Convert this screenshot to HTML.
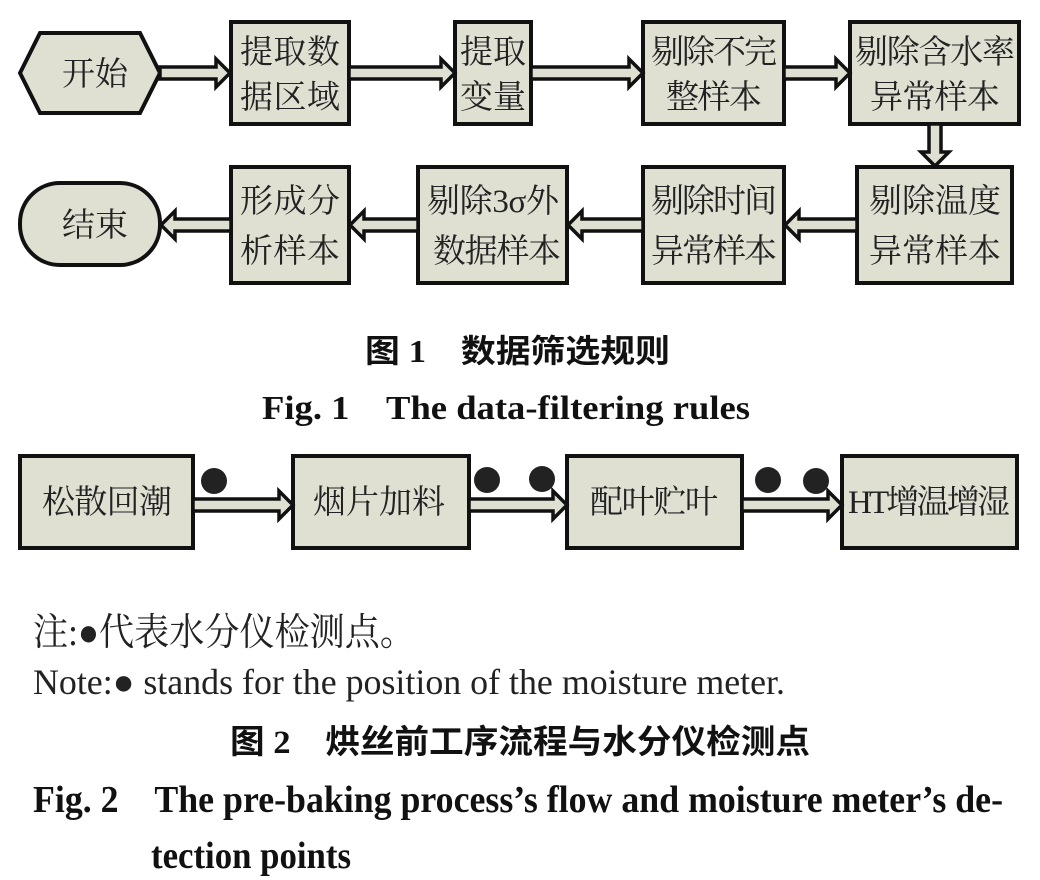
<!DOCTYPE html>
<html><head><meta charset="utf-8"><style>
html,body{margin:0;padding:0;background:#fff;}
svg{display:block;}
.b{fill:#dfe0d2;stroke:#111;stroke-width:4;}
.a{fill:#dfe0d2;stroke:#111;stroke-width:3.5;stroke-linejoin:miter;}
.t{font-family:"Liberation Serif","Noto Serif CJK SC",serif;font-size:33px;fill:#222;}
.c{font-family:"Liberation Serif","Noto Sans CJK SC",sans-serif;font-weight:bold;fill:#111;}
</style></head><body>
<svg width="1040" height="880" viewBox="0 0 1040 880" xmlns="http://www.w3.org/2000/svg">
<!-- Row 1 -->
<polygon class="b" points="20,73 40,33 140,33 160,73 140,113 40,113"/>
<text class="t" x="62" y="85" textLength="66">开始</text>
<rect class="b" x="231" y="22" width="118" height="102"/>
<text class="t" x="240" y="63" textLength="100">提取数</text>
<text class="t" x="240" y="108" textLength="100">据区域</text>
<rect class="b" x="455" y="22" width="76" height="102"/>
<text class="t" x="460" y="63" textLength="66">提取</text>
<text class="t" x="460" y="108" textLength="66">变量</text>
<rect class="b" x="643" y="22" width="141" height="102"/>
<text class="t" x="651" y="63" textLength="126">剔除不完</text>
<text class="t" x="666" y="108" textLength="96">整样本</text>
<rect class="b" x="850" y="22" width="169" height="102"/>
<text class="t" x="855" y="63" textLength="160">剔除含水率</text>
<text class="t" x="870" y="108" textLength="130">异常样本</text>
<!-- row1 arrows -->
<polygon class="a" points="160,67 216,67 216,59 230,73 216,87 216,79 160,79"/>
<polygon class="a" points="349,67 441,67 441,59 455,73 441,87 441,79 349,79"/>
<polygon class="a" points="531,67 629,67 629,59 643,73 629,87 629,79 531,79"/>
<polygon class="a" points="784,67 836,67 836,59 850,73 836,87 836,79 784,79"/>
<polygon class="a" points="929,124 941,124 941,152 949,152 935,166 921,152 929,152"/>
<!-- Row 2 -->
<rect class="b" x="20" y="183" width="140" height="82" rx="40" ry="40"/>
<text class="t" x="62" y="236" textLength="66">结束</text>
<rect class="b" x="231" y="167" width="118" height="116"/>
<text class="t" x="240" y="212" textLength="100">形成分</text>
<text class="t" x="240" y="262" textLength="100">析样本</text>
<rect class="b" x="418" y="167" width="149" height="116"/>
<text class="t" x="427" y="212" textLength="132">剔除3σ外</text>
<text class="t" x="433" y="262" textLength="128">数据样本</text>
<rect class="b" x="643" y="167" width="141" height="116"/>
<text class="t" x="651" y="212" textLength="126">剔除时间</text>
<text class="t" x="651" y="262" textLength="126">异常样本</text>
<rect class="b" x="857" y="167" width="155" height="116"/>
<text class="t" x="869" y="212" textLength="132">剔除温度</text>
<text class="t" x="869" y="262" textLength="132">异常样本</text>
<polygon class="a" points="857,219 799,219 799,211 785,225 799,239 799,231 857,231"/>
<polygon class="a" points="643,219 582,219 582,211 568,225 582,239 582,231 643,231"/>
<polygon class="a" points="418,219 364,219 364,211 350,225 364,239 364,231 418,231"/>
<polygon class="a" points="231,219 175,219 175,211 161,225 175,239 175,231 231,231"/>
<!-- Caption 1 -->
<text class="c" x="365" y="362" font-size="32" textLength="305" lengthAdjust="spacingAndGlyphs">图 1　数据筛选规则</text>
<text class="c" x="262" y="419" font-size="34" textLength="488" lengthAdjust="spacingAndGlyphs" style="font-family:'Liberation Serif',serif">Fig. 1　The data-filtering rules</text>
<!-- Row 3 -->
<rect class="b" x="20" y="456" width="173" height="92"/>
<text class="t" x="42" y="513" textLength="130">松散回潮</text>
<rect class="b" x="293" y="456" width="176" height="92"/>
<text class="t" x="313" y="513" textLength="132">烟片加料</text>
<rect class="b" x="567" y="456" width="175" height="92"/>
<text class="t" x="590" y="513" textLength="128">配叶贮叶</text>
<rect class="b" x="842" y="456" width="175" height="92"/>
<text class="t" x="848" y="513" textLength="162">HT增温增湿</text>
<polygon class="a" points="193,499 279,499 279,491 293,505 279,519 279,511 193,511"/>
<polygon class="a" points="469,499 553,499 553,491 567,505 553,519 553,511 469,511"/>
<polygon class="a" points="742,499 828,499 828,491 842,505 828,519 828,511 742,511"/>
<circle cx="214" cy="481" r="13" fill="#222"/>
<circle cx="487" cy="480" r="13" fill="#222"/>
<circle cx="542" cy="479" r="13" fill="#222"/>
<circle cx="768" cy="480" r="13" fill="#222"/>
<circle cx="816" cy="481" r="13" fill="#222"/>
<!-- Notes -->
<text x="33" y="645" font-size="38" textLength="382" lengthAdjust="spacingAndGlyphs" fill="#222" style="font-family:'Liberation Serif','Noto Serif CJK SC',serif">注:●代表水分仪检测点。</text>
<text x="33" y="694" font-size="36" textLength="752" lengthAdjust="spacingAndGlyphs" fill="#222" style="font-family:'Liberation Serif',serif">Note:● stands for the position of the moisture meter.</text>
<text class="c" x="230" y="753" font-size="33" textLength="580" lengthAdjust="spacingAndGlyphs">图 2　烘丝前工序流程与水分仪检测点</text>
<text class="c" x="33" y="812" font-size="38" textLength="970" lengthAdjust="spacingAndGlyphs" style="font-family:'Liberation Serif',serif">Fig. 2　The pre-baking process’s flow and moisture meter’s de-</text>
<text class="c" x="151" y="868" font-size="38" textLength="200" lengthAdjust="spacingAndGlyphs" style="font-family:'Liberation Serif',serif">tection points</text>
</svg>
</body></html>
